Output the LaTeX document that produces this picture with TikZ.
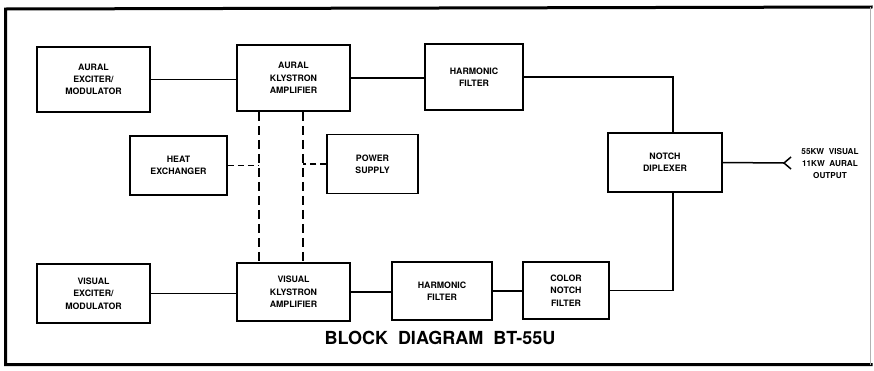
\documentclass[tikz,border=0pt]{standalone}
\usepackage{fontspec}
\setmainfont{TeX Gyre Heros}
\usetikzlibrary{calc}

\begin{document}
\begin{tikzpicture}[x=1pt, y=-1pt,
    block/.style={draw, line width=1.5pt, align=center, inner sep=0pt,
        font=\bfseries\fontsize{8.8}{12.3}\selectfont},
    link/.style={line width=1.5pt},
    dlink/.style={line width=1.4pt, dash pattern=on 9pt off 5pt}]
    % Page size
    \useasboundingbox (0,0) rectangle (874,370);
    % Frame
    \draw[line width=3pt, line cap=rect] (871,7) -- (5.5,9) -- (5.5,364.5) -- (871,364.5);
    \draw[gray!60, thin] (870.5,7) -- (870.5,364.5);
    % Aural chain
    \node[block, minimum width=113pt, minimum height=65pt] (auralexc) at (93.5,79.5) {AURAL\\EXCITER/\\MODULATOR};
    \node[block, minimum width=113pt, minimum height=66pt] (auralkly) at (293.5,78) {AURAL\\KLYSTRON\\AMPLIFIER};
    \node[block, minimum width=98pt, minimum height=66pt] (auralfil) at (474,77) {HARMONIC\\FILTER};
    % Auxiliary units
    \node[block, minimum width=97pt, minimum height=59pt] (heat) at (178.5,165.5) {HEAT\\EXCHANGER};
    \node[block, minimum width=91pt, minimum height=59pt] (power) at (372.5,164) {POWER\\SUPPLY};
    % Diplexer
    \node[block, minimum width=114pt, minimum height=59pt] (diplexer) at (665,162.5) {NOTCH\\DIPLEXER};
    % Visual chain
    \node[block, minimum width=113pt, minimum height=59pt] (visualexc) at (93.5,293.5) {VISUAL\\EXCITER/\\MODULATOR};
    \node[block, minimum width=113pt, minimum height=58pt] (visualkly) at (293.5,292) {VISUAL\\KLYSTRON\\AMPLIFIER};
    \node[block, minimum width=100pt, minimum height=58pt] (visualfil) at (442,291) {HARMONIC\\FILTER};
    \node[block, minimum width=86pt, minimum height=57pt] (colornotch) at (566,290.5) {COLOR\\NOTCH\\FILTER};
    % Output
    \coordinate (out) at (784,163);
    \node[align=center, font=\bfseries\fontsize{8.2}{12.3}\selectfont] (outtext) at (830,163.5) {55KW\ \ VISUAL\\11KW\ \ AURAL\\OUTPUT};
    % Signal paths
    \draw[link] (auralexc.east) -- (auralexc.east -| auralkly.west);
    \draw[link] (auralkly.east) -- (auralkly.east -| auralfil.west);
    \draw[link] (auralfil.east) -| ([xshift=8pt]diplexer.north);
    \draw[link] (visualexc.east) -- (visualexc.east -| visualkly.west);
    \draw[link] (visualkly.east) -- (visualkly.east -| visualfil.west);
    \draw[link] (visualfil.east) -- (visualfil.east -| colornotch.west);
    \draw[link] (colornotch.east) -| ([xshift=8pt]diplexer.south);
    \draw[link] (diplexer.east) -- (out);
    \draw[link] ($(out)+(7,-6)$) -- (out) -- ($(out)+(7,6)$);
    % Cooling and power (dashed)
    \coordinate (busa) at ([xshift=-34.5pt]auralkly.south);
    \coordinate (busb) at ([xshift=9.5pt]auralkly.south);
    \draw[dlink] (busa) -- (busa |- visualkly.north);
    \draw[dlink] (busb) -- (busb |- visualkly.north);
    \draw[dlink, dash pattern=on 6pt off 4pt] (heat.east) -- (heat.east -| busa);
    \draw[dlink, dash pattern=on 6pt off 4pt] (power.west) -- (power.west -| busb);
    % Title
    \node[font=\bfseries\fontsize{18}{21}\selectfont] (title) at (440,338) {BLOCK\ \ DIAGRAM\ \ BT-55U};
\end{tikzpicture}
\end{document}
